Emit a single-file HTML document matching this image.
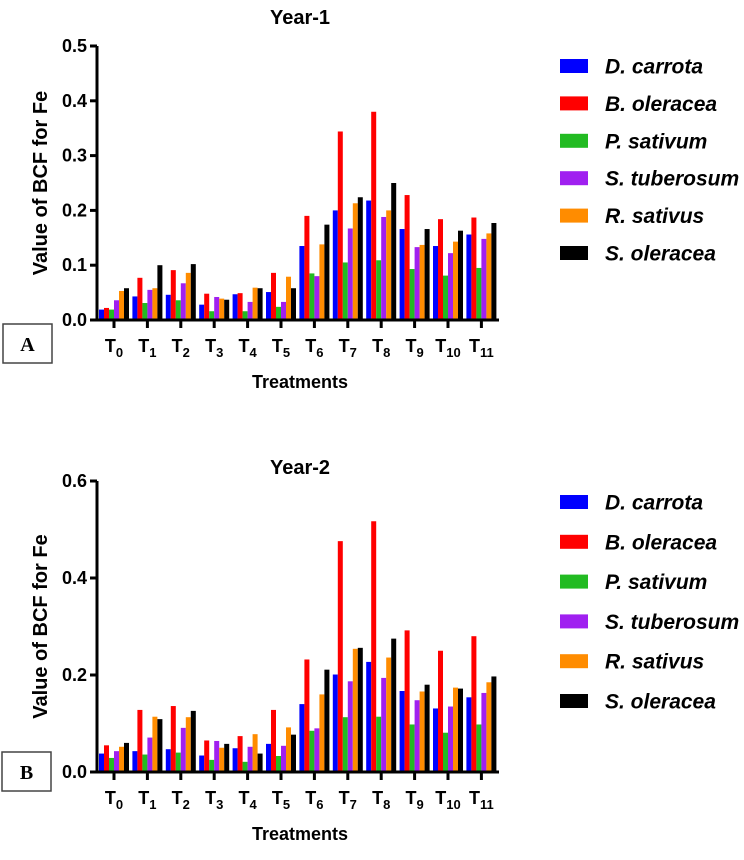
<!DOCTYPE html>
<html><head><meta charset="utf-8"><style>
body{margin:0;background:#fff;font-family:"Liberation Sans",sans-serif}
</style></head><body>
<svg id="svg" width="744" height="855" xmlns="http://www.w3.org/2000/svg" font-family="Liberation Sans, sans-serif"></svg>
<script>
const categories=["0","1","2","3","4","5","6","7","8","9","10","11"];
const seriesNames=["D. carrota","B. oleracea","P. sativum","S. tuberosum","R. sativus","S. oleracea"];
const colors=["#0000ff","#ff0000","#22bb22","#a020f0","#ff8c00","#000000"];
const year1=[
[.019,.043,.046,.028,.047,.051,.135,.200,.218,.166,.135,.156],
[.022,.077,.091,.048,.049,.086,.190,.344,.380,.228,.184,.187],
[.019,.031,.036,.016,.016,.024,.085,.105,.109,.093,.081,.095],
[.036,.055,.067,.042,.033,.033,.080,.167,.188,.133,.122,.148],
[.053,.058,.086,.039,.059,.079,.138,.213,.200,.137,.143,.158],
[.058,.100,.102,.037,.058,.058,.174,.224,.250,.166,.163,.177]];
const year2=[
[.038,.043,.047,.034,.049,.058,.140,.201,.227,.167,.131,.154],
[.055,.128,.136,.065,.074,.128,.232,.476,.517,.292,.250,.280],
[.029,.036,.040,.025,.021,.033,.085,.113,.114,.098,.081,.098],
[.043,.071,.091,.064,.052,.054,.090,.187,.194,.148,.135,.163],
[.052,.114,.113,.050,.078,.092,.160,.254,.236,.166,.174,.185],
[.060,.109,.126,.058,.038,.077,.211,.256,.275,.180,.172,.197]];
const ticks1=[0,0.1,0.2,0.3,0.4,0.5];
const ticks2=[0,0.2,0.4,0.6];
const NS="http://www.w3.org/2000/svg";
const svg=document.getElementById('svg');
function mk(t,a,p){const e=document.createElementNS(NS,t);for(const k in a)e.setAttribute(k,a[k]);(p||svg).appendChild(e);return e;}
function chart(o){
 const g=mk('g',{});
 
 
 const y=v=>o.y0-(v/o.max)*(o.y0-o.yTop);
 const x0=97, step=33.4, first=114, bw=5;
 const t=mk('text',{x:300,y:o.titleY,'font-size':20,'font-weight':'bold','text-anchor':'middle'},g);t.textContent=o.title;
 
 o.data.forEach((s,si)=>{s.forEach((v,ci)=>{
  const cx=first+ci*step; const bx=cx-15+si*bw;
  const r=mk('rect',{x:bx,y:y(v),width:bw,height:o.y0-y(v),fill:colors[si]},g);
  
  
 });});
 mk('line',{x1:x0,y1:o.yTop,x2:x0,y2:o.y0+1.5,stroke:'#000','stroke-width':3},g);
 mk('line',{x1:x0-1.5,y1:o.y0,x2:499,y2:o.y0,stroke:'#000','stroke-width':3},g);
 o.ticks.forEach(v=>{
  mk('line',{x1:x0-7,y1:y(v),x2:x0,y2:y(v),stroke:'#000','stroke-width':3},g);
  const l=mk('text',{x:x0-10,y:y(v)+6,'font-size':18,'font-weight':'bold','text-anchor':'end'},g);l.textContent=v.toFixed(1);
  
 });
 categories.forEach((c,ci)=>{
  const cx=first+ci*step;
  mk('line',{x1:cx,y1:o.y0,x2:cx,y2:o.y0+8,stroke:'#000','stroke-width':3},g);
  const l=mk('text',{x:cx,y:o.y0+32,'font-size':18,'font-weight':'bold','text-anchor':'middle'},g);
  l.innerHTML='T<tspan font-size="13" dy="5">'+c+'</tspan>';
  
 });
 const xt=mk('text',{x:300,y:o.y0+68,'font-size':18,'font-weight':'bold','text-anchor':'middle'},g);xt.textContent='Treatments';
 
 const cy=(o.y0+o.yTop)/2;
 const yt=mk('text',{x:47,y:cy,'font-size':20,'font-weight':'bold','text-anchor':'middle',transform:'rotate(-90 47 '+cy+')'},g);yt.textContent='Value of BCF for Fe';
 
 const b=mk('rect',{x:o.box[0],y:o.box[1],width:49,height:39,fill:'#fff',stroke:'#444','stroke-width':1.5},g);
 
 const bl=mk('text',{x:o.box[0]+24.5,y:o.box[1]+27,'font-size':20,'font-weight':'bold','font-family':'Liberation Serif, serif','text-anchor':'middle'},g);bl.textContent=o.letter;
 
 seriesNames.forEach((n,si)=>{
  const ly=o.legY+si*o.legStep;
  const lg=mk('g',{},g);
  
  
  mk('rect',{x:560,y:ly-7,width:28,height:14,fill:colors[si]},lg);
  const lt=mk('text',{x:605,y:ly+7.5,'font-size':21,'font-weight':'bold','font-style':'italic'},lg);lt.textContent=n;
 });
}
chart({id:'year-1',title:'Year-1',titleY:24,data:year1,max:0.5,y0:320,yTop:46,ticks:ticks1,box:[3,324],letter:'A',legY:66,legStep:37.4});
chart({id:'year-2',title:'Year-2',titleY:474,data:year2,max:0.6,y0:772,yTop:481,ticks:ticks2,box:[2,752],letter:'B',legY:502,legStep:39.8});
</script>
</body></html>
